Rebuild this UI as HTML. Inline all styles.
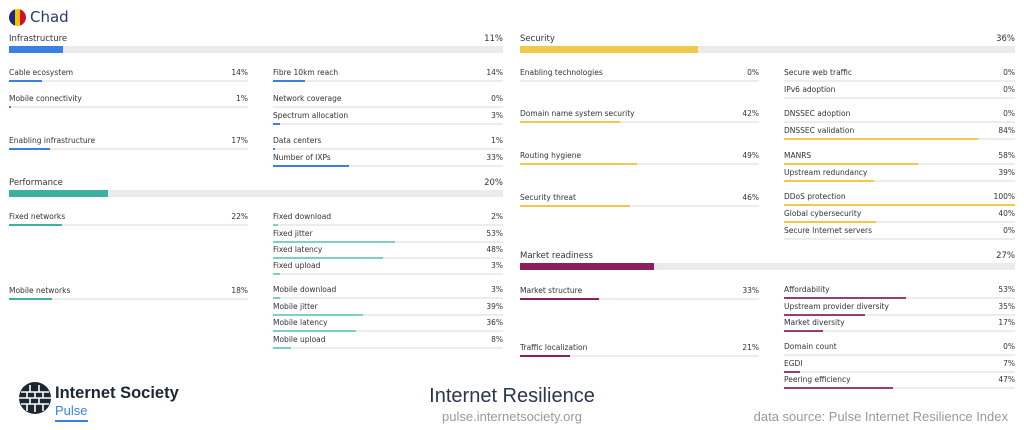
<!DOCTYPE html>
<html><head><meta charset="utf-8"><style>
*{margin:0;padding:0;box-sizing:border-box}
body{width:1024px;height:430px;background:#fff;position:relative;overflow:hidden;font-family:"DejaVu Sans","Liberation Sans",sans-serif;color:#333}
.i{position:absolute;height:16px;font-size:7.5px;line-height:12px}
.i .v{position:absolute;right:0;top:0}
.i .t{position:absolute;left:0;right:0;top:13px;height:2px;background:#ececec}
.i .f{height:2px}
.h{position:absolute;height:20px;font-size:8.5px;line-height:12px}
.h .v{position:absolute;right:0;top:0}
.h .t{position:absolute;left:0;right:0;top:13px;height:7px;background:#ebebeb}
.h .f{height:7px}
.b .f{background:#3a80e2}.y .f{background:#f0c84a}.g .f{background:#3db09e}.g2 .f{background:#7fd0c3}.m .f{background:#8c1f5c}.m2 .f{background:#9d3b6f}
.L{left:9px;width:239px}.R{left:273px;width:230px}.L2{left:520px;width:239px}.R2{left:784px;width:231px}
.HL{left:9px;width:494px}.HR{left:520px;width:495px}
</style></head><body>
<svg style="position:absolute;left:9px;top:9px" width="17" height="17" viewBox="0 0 17 17"><clipPath id="c"><circle cx="8.5" cy="8.5" r="8.5"/></clipPath><g clip-path="url(#c)"><rect x="0" width="6" height="17" fill="#1a2a80"/><rect x="6" width="5" height="17" fill="#f5c400"/><rect x="11" width="6" height="17" fill="#d0102c"/></g></svg>
<div style="position:absolute;left:30px;top:8px;font-size:15px;color:#2b3a6e;font-family:'DejaVu Sans',sans-serif">Chad</div>

<div class="h HL b" style="top:33px">Infrastructure<span class="v">11%</span><div class="t"><div class="f" style="width:11%"></div></div></div>
<div class="i L b" style="top:67px">Cable ecosystem<span class="v">14%</span><div class="t"><div class="f" style="width:14%"></div></div></div>
<div class="i L b" style="top:93px">Mobile connectivity<span class="v">1%</span><div class="t"><div class="f" style="width:1%"></div></div></div>
<div class="i L b" style="top:135px">Enabling infrastructure<span class="v">17%</span><div class="t"><div class="f" style="width:17%"></div></div></div>
<div class="i R b" style="top:67px">Fibre 10km reach<span class="v">14%</span><div class="t"><div class="f" style="width:14%"></div></div></div>
<div class="i R b" style="top:93px">Network coverage<span class="v">0%</span><div class="t"><div class="f" style="width:0%"></div></div></div>
<div class="i R b" style="top:110px">Spectrum allocation<span class="v">3%</span><div class="t"><div class="f" style="width:3%"></div></div></div>
<div class="i R b" style="top:135px">Data centers<span class="v">1%</span><div class="t"><div class="f" style="width:1%"></div></div></div>
<div class="i R b" style="top:152px">Number of IXPs<span class="v">33%</span><div class="t"><div class="f" style="width:33%"></div></div></div>

<div class="h HL g" style="top:177px">Performance<span class="v">20%</span><div class="t"><div class="f" style="width:20%"></div></div></div>
<div class="i L g" style="top:211px">Fixed networks<span class="v">22%</span><div class="t"><div class="f" style="width:22%"></div></div></div>
<div class="i L g" style="top:285px">Mobile networks<span class="v">18%</span><div class="t"><div class="f" style="width:18%"></div></div></div>
<div class="i R g2" style="top:211px">Fixed download<span class="v">2%</span><div class="t"><div class="f" style="width:2%"></div></div></div>
<div class="i R g2" style="top:228px">Fixed jitter<span class="v">53%</span><div class="t"><div class="f" style="width:53%"></div></div></div>
<div class="i R g2" style="top:244px">Fixed latency<span class="v">48%</span><div class="t"><div class="f" style="width:48%"></div></div></div>
<div class="i R g2" style="top:260px">Fixed upload<span class="v">3%</span><div class="t"><div class="f" style="width:3%"></div></div></div>
<div class="i R g2" style="top:284px">Mobile download<span class="v">3%</span><div class="t"><div class="f" style="width:3%"></div></div></div>
<div class="i R g2" style="top:301px">Mobile jitter<span class="v">39%</span><div class="t"><div class="f" style="width:39%"></div></div></div>
<div class="i R g2" style="top:317px">Mobile latency<span class="v">36%</span><div class="t"><div class="f" style="width:36%"></div></div></div>
<div class="i R g2" style="top:334px">Mobile upload<span class="v">8%</span><div class="t"><div class="f" style="width:8%"></div></div></div>

<div class="h HR y" style="top:33px">Security<span class="v">36%</span><div class="t"><div class="f" style="width:36%"></div></div></div>
<div class="i L2 y" style="top:67px">Enabling technologies<span class="v">0%</span><div class="t"><div class="f" style="width:0%"></div></div></div>
<div class="i L2 y" style="top:108px">Domain name system security<span class="v">42%</span><div class="t"><div class="f" style="width:42%"></div></div></div>
<div class="i L2 y" style="top:150px">Routing hygiene<span class="v">49%</span><div class="t"><div class="f" style="width:49%"></div></div></div>
<div class="i L2 y" style="top:192px">Security threat<span class="v">46%</span><div class="t"><div class="f" style="width:46%"></div></div></div>
<div class="i R2 y" style="top:67px">Secure web traffic<span class="v">0%</span><div class="t"><div class="f" style="width:0%"></div></div></div>
<div class="i R2 y" style="top:84px">IPv6 adoption<span class="v">0%</span><div class="t"><div class="f" style="width:0%"></div></div></div>
<div class="i R2 y" style="top:108px">DNSSEC adoption<span class="v">0%</span><div class="t"><div class="f" style="width:0%"></div></div></div>
<div class="i R2 y" style="top:125px">DNSSEC validation<span class="v">84%</span><div class="t"><div class="f" style="width:84%"></div></div></div>
<div class="i R2 y" style="top:150px">MANRS<span class="v">58%</span><div class="t"><div class="f" style="width:58%"></div></div></div>
<div class="i R2 y" style="top:167px">Upstream redundancy<span class="v">39%</span><div class="t"><div class="f" style="width:39%"></div></div></div>
<div class="i R2 y" style="top:191px">DDoS protection<span class="v">100%</span><div class="t"><div class="f" style="width:100%"></div></div></div>
<div class="i R2 y" style="top:208px">Global cybersecurity<span class="v">40%</span><div class="t"><div class="f" style="width:40%"></div></div></div>
<div class="i R2 y" style="top:225px">Secure Internet servers<span class="v">0%</span><div class="t"><div class="f" style="width:0%"></div></div></div>

<div class="h HR m" style="top:250px">Market readiness<span class="v">27%</span><div class="t"><div class="f" style="width:27%"></div></div></div>
<div class="i L2 m" style="top:285px">Market structure<span class="v">33%</span><div class="t"><div class="f" style="width:33%"></div></div></div>
<div class="i L2 m" style="top:342px">Traffic localization<span class="v">21%</span><div class="t"><div class="f" style="width:21%"></div></div></div>
<div class="i R2 m2" style="top:284px">Affordability<span class="v">53%</span><div class="t"><div class="f" style="width:53%"></div></div></div>
<div class="i R2 m2" style="top:301px">Upstream provider diversity<span class="v">35%</span><div class="t"><div class="f" style="width:35%"></div></div></div>
<div class="i R2 m2" style="top:317px">Market diversity<span class="v">17%</span><div class="t"><div class="f" style="width:17%"></div></div></div>
<div class="i R2 m2" style="top:341px">Domain count<span class="v">0%</span><div class="t"><div class="f" style="width:0%"></div></div></div>
<div class="i R2 m2" style="top:358px">EGDI<span class="v">7%</span><div class="t"><div class="f" style="width:7%"></div></div></div>
<div class="i R2 m2" style="top:374px">Peering efficiency<span class="v">47%</span><div class="t"><div class="f" style="width:47%"></div></div></div>

<svg style="position:absolute;left:19px;top:382px" width="32" height="32" viewBox="0 0 32 32"><circle cx="16" cy="16" r="16" fill="#1b2733"/><g stroke="#fff" stroke-width="1.6"><line x1="2" y1="10" x2="30" y2="10"/><line x1="0" y1="16" x2="32" y2="16"/><line x1="2" y1="22" x2="30" y2="22"/><line x1="11" y1="3" x2="11" y2="10"/><line x1="20" y1="3" x2="20" y2="10"/><line x1="8" y1="10" x2="8" y2="16"/><line x1="16" y1="10" x2="16" y2="16"/><line x1="24" y1="10" x2="24" y2="16"/><line x1="11" y1="16" x2="11" y2="22"/><line x1="20" y1="16" x2="20" y2="22"/><line x1="8" y1="22" x2="8" y2="29"/><line x1="16" y1="22" x2="16" y2="30"/><line x1="24" y1="22" x2="24" y2="29"/></g></svg>
<div style="position:absolute;left:55px;top:384px;font-size:16.5px;font-weight:bold;color:#1b2733;font-family:'Liberation Sans',sans-serif">Internet Society</div>
<div style="position:absolute;left:55px;top:403px;font-size:13px;color:#3a80e2;font-family:'Liberation Sans',sans-serif">Pulse</div>
<div style="position:absolute;left:55px;top:420px;width:33px;height:2px;background:#3a80e2"></div>
<div style="position:absolute;left:362px;width:300px;text-align:center;top:385px;font-size:20px;color:#2b3550;font-family:'Liberation Sans',sans-serif">Internet Resilience</div>
<div style="position:absolute;left:362px;width:300px;text-align:center;top:409px;font-size:13px;color:#999;font-family:'Liberation Sans',sans-serif">pulse.internetsociety.org</div>
<div style="position:absolute;right:16px;top:409px;font-size:13px;color:#999;font-family:'Liberation Sans',sans-serif">data source: Pulse Internet Resilience Index</div>
</body></html>
